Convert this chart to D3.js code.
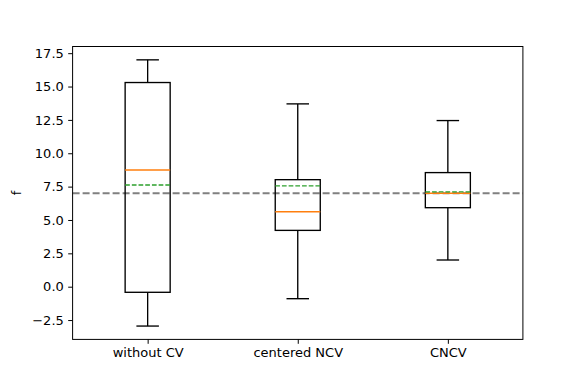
<!DOCTYPE html>
<html>
<head>
<meta charset="utf-8">
<script src="https://cdn.jsdelivr.net/npm/d3@7"></script>
<style>
  body { margin: 0; background: #fff; }
  text { font-family: "DejaVu Sans", sans-serif; }
</style>
</head>
<body>
<div id="chart"></div>
<script>
// Data
const categories = ["without CV", "centered NCV", "CNCV"];
const whiskerLow = [-2.95, -0.9, 2.0];
const q1 = [-0.42, 4.22, 5.92];
const medians = [8.75, 5.62, 7.0];
const means = [7.62, 7.55, 7.1];
const q3 = [15.3, 8.02, 8.55];
const whiskerHigh = [17.0, 13.7, 12.45];
const refValue = 7.0;
const yTicks = [-2.5, 0, 2.5, 5, 7.5, 10, 12.5, 15, 17.5];

// Layout
const W = 581, H = 388;
const margin = { left: 72.6, right: 58.1, top: 46.5, bottom: 48.6 };
const fontPx = 13;

const svg = d3.select("#chart").append("svg")
    .attr("width", W)
    .attr("height", H);

const x = d3.scaleLinear()
    .domain([0.5, 3.5])
    .range([margin.left, W - margin.right]);
const y = d3.scaleLinear()
    .domain([-3.95, 18.0])
    .range([H - margin.bottom, margin.top]);

const boxW = x(1.15) - x(0.85);
const capW = x(1.075) - x(0.925);
const pos = categories.map((c, i) => i + 1);

// Reference line
svg.append("line")
    .attr("x1", x.range()[0]).attr("x2", x.range()[1])
    .attr("y1", y(refValue)).attr("y2", y(refValue))
    .attr("stroke", "#808080")
    .attr("stroke-width", 2)
    .attr("stroke-dasharray", "7,3");

// Boxes
const g = svg.append("g");
pos.forEach((p, i) => {
    const cx = x(p);
    const bg = g.append("g");

    // whiskers
    bg.append("line")
        .attr("x1", cx).attr("x2", cx)
        .attr("y1", y(q3[i])).attr("y2", y(whiskerHigh[i]));
    bg.append("line")
        .attr("x1", cx).attr("x2", cx)
        .attr("y1", y(q1[i])).attr("y2", y(whiskerLow[i]));

    // caps
    [whiskerLow[i], whiskerHigh[i]].forEach(v => {
        bg.append("line")
            .attr("x1", cx - capW / 2).attr("x2", cx + capW / 2)
            .attr("y1", y(v)).attr("y2", y(v));
    });

    // box
    bg.append("rect")
        .attr("x", cx - boxW / 2)
        .attr("y", y(q3[i]))
        .attr("width", boxW)
        .attr("height", y(q1[i]) - y(q3[i]))
        .attr("fill", "none");

    bg.selectAll("line, rect")
        .attr("stroke", "#000")
        .attr("stroke-width", 1.35);

    // median
    bg.append("line")
        .attr("x1", cx - boxW / 2).attr("x2", cx + boxW / 2)
        .attr("y1", y(medians[i])).attr("y2", y(medians[i]))
        .attr("stroke", "#ff7f0e")
        .attr("stroke-width", 1.5);

    // mean line
    bg.append("line")
        .attr("x1", cx - boxW / 2).attr("x2", cx + boxW / 2)
        .attr("y1", y(means[i])).attr("y2", y(means[i]))
        .attr("stroke", "#2ca02c")
        .attr("stroke-width", 1.35)
        .attr("stroke-dasharray", "4.7,2");
});

// Axes
const yAxis = d3.axisLeft(y)
    .tickValues(yTicks)
    .tickSize(4.4)
    .tickPadding(4.4)
    .tickFormat(d => d3.format(".1f")(d).replace("-", "\u2212"));
const xAxis = d3.axisBottom(x)
    .tickValues(pos)
    .tickSize(4.4)
    .tickPadding(4.4)
    .tickFormat((d, i) => categories[i]);

const yg = svg.append("g")
    .attr("transform", `translate(${margin.left},0)`)
    .call(yAxis);
const xg = svg.append("g")
    .attr("transform", `translate(0,${H - margin.bottom})`)
    .call(xAxis);

[yg, xg].forEach(a => {
    a.select(".domain").remove();
    a.selectAll(".tick line").attr("stroke", "#000").attr("stroke-width", 1);
    a.selectAll(".tick text")
        .attr("fill", "#000")
        .style("font-size", fontPx + "px");
});

// Frame
svg.append("rect")
    .attr("x", margin.left)
    .attr("y", margin.top)
    .attr("width", W - margin.left - margin.right)
    .attr("height", H - margin.top - margin.bottom)
    .attr("fill", "none")
    .attr("stroke", "#000")
    .attr("stroke-width", 1);

// Y label
svg.append("text")
    .attr("transform", `translate(21,${(margin.top + H - margin.bottom) / 2}) rotate(-90)`)
    .attr("text-anchor", "middle")
    .style("font-size", fontPx + "px")
    .text("f");
</script>
</body>
</html>
